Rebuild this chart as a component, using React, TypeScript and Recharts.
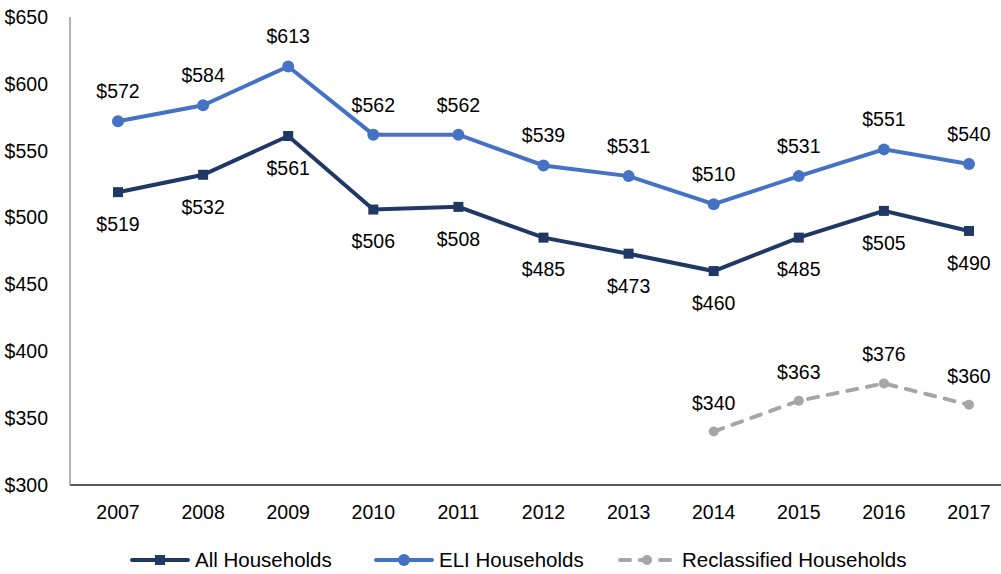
import { LineChart, Line, XAxis, YAxis, LabelList } from 'recharts';

const years = ['2007', '2008', '2009', '2010', '2011', '2012', '2013', '2014', '2015', '2016', '2017'];
const allHouseholds = [519, 532, 561, 506, 508, 485, 473, 460, 485, 505, 490];
const eliHouseholds = [572, 584, 613, 562, 562, 539, 531, 510, 531, 551, 540];
const reclassified: (number | null)[] = [null, null, null, null, null, null, null, 340, 363, 376, 360];
const yTicks = [300, 350, 400, 450, 500, 550, 600, 650];

const NAVY = '#1f3864';
const BLUE = '#4472c4';
const GRAY = '#a6a6a6';
const FONT = '"Liberation Sans", Arial, sans-serif';

const data = years.map((year, i) => ({
  year,
  all: allHouseholds[i],
  eli: eliHouseholds[i],
  reclass: reclassified[i],
}));

const money = (v: any) => (v == null ? '' : `$${v}`);

function SquareDot(props: any) {
  const { cx, cy } = props;
  if (cx == null || cy == null) return null;
  return <rect x={cx - 5} y={cy - 5} width={10} height={10} fill={NAVY} />;
}

const legendItems = [
  { label: 'All Households', left: 130, kind: 'square', color: NAVY },
  { label: 'ELI Households', left: 374, kind: 'circle', color: BLUE },
  { label: 'Reclassified Households', left: 617, kind: 'dash', color: GRAY },
];

function LegendIcon({ kind, color }: { kind: string; color: string }) {
  return (
    <svg width={60} height={14} style={{ display: 'block' }}>
      {kind === 'dash' ? (
        <line x1={3} y1={7} x2={57} y2={7} stroke={color} strokeWidth={4} strokeLinecap="round" strokeDasharray="10 10" />
      ) : (
        <line x1={2} y1={7} x2={58} y2={7} stroke={color} strokeWidth={4} strokeLinecap="round" />
      )}
      {kind === 'square' && <rect x={25} y={2} width={10} height={10} fill={color} />}
      {kind === 'circle' && <circle cx={30} cy={7} r={6} fill={color} />}
      {kind === 'dash' && <circle cx={30} cy={7} r={5} fill={color} />}
    </svg>
  );
}

export default function App() {
  return (
    <div style={{ position: 'absolute', left: 0, top: 0, width: 1001, height: 574, background: '#fff', fontFamily: FONT }}>
      <LineChart width={1001} height={574} data={data} margin={{ top: 17, right: 0, left: 0, bottom: 49 }}>
        <XAxis
          dataKey="year"
          padding={{ left: 48, right: 32 }}
          axisLine={{ stroke: '#222', strokeWidth: 1.5 }}
          tickLine={false}
          tickMargin={14}
          height={40}
          tick={{ fill: '#000', fontSize: 19.5, fontFamily: FONT }}
        />
        <YAxis
          domain={[300, 650]}
          ticks={yTicks}
          width={70}
          axisLine={{ stroke: '#999', strokeWidth: 1.5 }}
          tickLine={false}
          tickMargin={16}
          tickFormatter={money}
          tick={{ fill: '#000', fontSize: 19.5, fontFamily: FONT }}
        />
        <Line
          dataKey="all"
          stroke={NAVY}
          strokeWidth={4}
          dot={<SquareDot />}
          activeDot={false}
          isAnimationActive={false}
        >
          <LabelList dataKey="all" position="bottom" offset={25} formatter={money} fill="#000" fontSize={19.5} fontFamily={FONT} />
        </Line>
        <Line
          dataKey="eli"
          stroke={BLUE}
          strokeWidth={4}
          dot={{ r: 6, fill: BLUE, stroke: BLUE, strokeWidth: 0 }}
          activeDot={false}
          isAnimationActive={false}
        >
          <LabelList dataKey="eli" position="top" offset={23} formatter={money} fill="#000" fontSize={19.5} fontFamily={FONT} />
        </Line>
        <Line
          dataKey="reclass"
          stroke={GRAY}
          strokeWidth={4}
          strokeDasharray="10 10"
          strokeLinecap="round"
          dot={{ r: 5, fill: GRAY, stroke: GRAY, strokeWidth: 0 }}
          activeDot={false}
          connectNulls={false}
          isAnimationActive={false}
        >
          <LabelList dataKey="reclass" position="top" offset={22} formatter={money} fill="#000" fontSize={19.5} fontFamily={FONT} />
        </Line>
      </LineChart>
      {legendItems.map((item) => (
        <div
          key={item.label}
          style={{ position: 'absolute', left: item.left, top: 548, display: 'flex', alignItems: 'center', gap: 5, fontSize: 20.5, color: '#000', whiteSpace: 'nowrap' }}
        >
          <LegendIcon kind={item.kind} color={item.color} />
          <span>{item.label}</span>
        </div>
      ))}
    </div>
  );
}
